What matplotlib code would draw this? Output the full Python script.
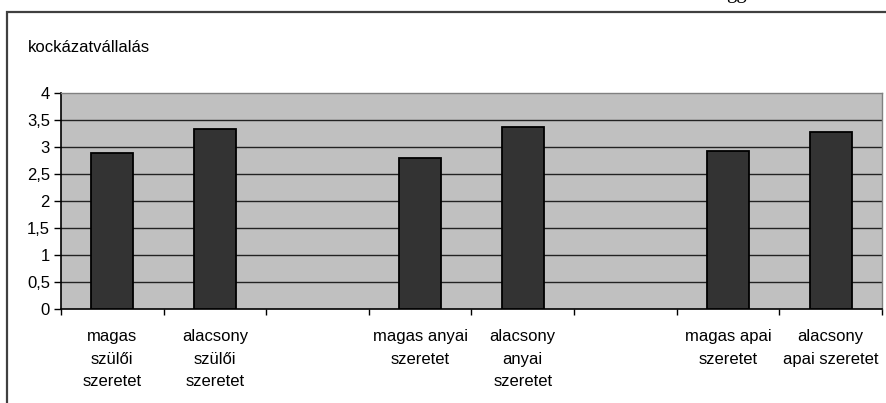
import numpy as np
import matplotlib
matplotlib.use("Agg")
import matplotlib.pyplot as plt
from matplotlib.patches import Rectangle

plt.rcParams['font.family'] = ['Liberation Sans', 'DejaVu Sans']

categories = ["magas\nszülői\nszeretet", "alacsony\nszülői\nszeretet", "",
              "magas anyai\nszeretet", "alacsony\nanyai\nszeretet", "",
              "magas apai\nszeretet", "alacsony\napai szeretet"]
values = [2.89, 3.33, np.nan, 2.81, 3.38, np.nan, 2.94, 3.29]
ytick_values = [0, 0.5, 1, 1.5, 2, 2.5, 3, 3.5, 4]
ytick_labels = ["0", "0,5", "1", "1,5", "2", "2,5", "3", "3,5", "4"]
title = "kockázatvállalás"

W, H = 887, 403
FS = 12
fig = plt.figure(figsize=(W / 100, H / 100), dpi=100)

# outer chart border (extends beyond right/bottom edges)
fig.patches.append(Rectangle((7 / W, -0.05), 1.2, 391 / H + 0.05, transform=fig.transFigure,
                             fill=False, edgecolor='#404040', linewidth=1.6, zorder=0))
# cut-off text from page above
fig.text(737 / W, 1 + 2 / H, "gg", family='Liberation Serif', fontsize=15,
         ha='center', va='baseline', color='black')

ax = fig.add_axes([61 / W, (H - 309.3) / H, (882 - 61) / W, 216 / H])
ax.set_facecolor('#C0C0C0')

x = np.arange(len(categories))
ax.bar(x, values, width=0.41, color='#333333', edgecolor='black', linewidth=1.3, zorder=3)

ax.set_xlim(-0.5, len(categories) - 0.5)
ax.set_ylim(0, 4)
ax.set_yticks(ytick_values)
ax.set_yticklabels(ytick_labels, fontsize=FS)
for yv in ytick_values[1:-1]:
    ax.axhline(yv, color='#222222', linewidth=1.0, zorder=1)

ax.set_xticks(np.arange(len(categories) + 1) - 0.5)
ax.set_xticklabels([])
ax.set_xticks(x, minor=True)
ax.set_xticklabels(categories, minor=True, fontsize=FS, linespacing=1.65,
                   ha='center', va='top')
ax.tick_params(axis='x', which='minor', length=0, pad=14)
ax.tick_params(axis='x', which='major', length=4, width=1, color='black', direction='out')
ax.tick_params(axis='y', length=5, width=1, color='black', direction='out', pad=3)

for s in ['top', 'right']:
    ax.spines[s].set_color('#808080')
    ax.spines[s].set_linewidth(1.0)
for s in ['left', 'bottom']:
    ax.spines[s].set_color('black')
    ax.spines[s].set_linewidth(1.2)

fig.text(28 / W, 1 - 48 / H, title, fontsize=FS, ha='left', va='center')

fig.savefig("out.png", dpi=100)
